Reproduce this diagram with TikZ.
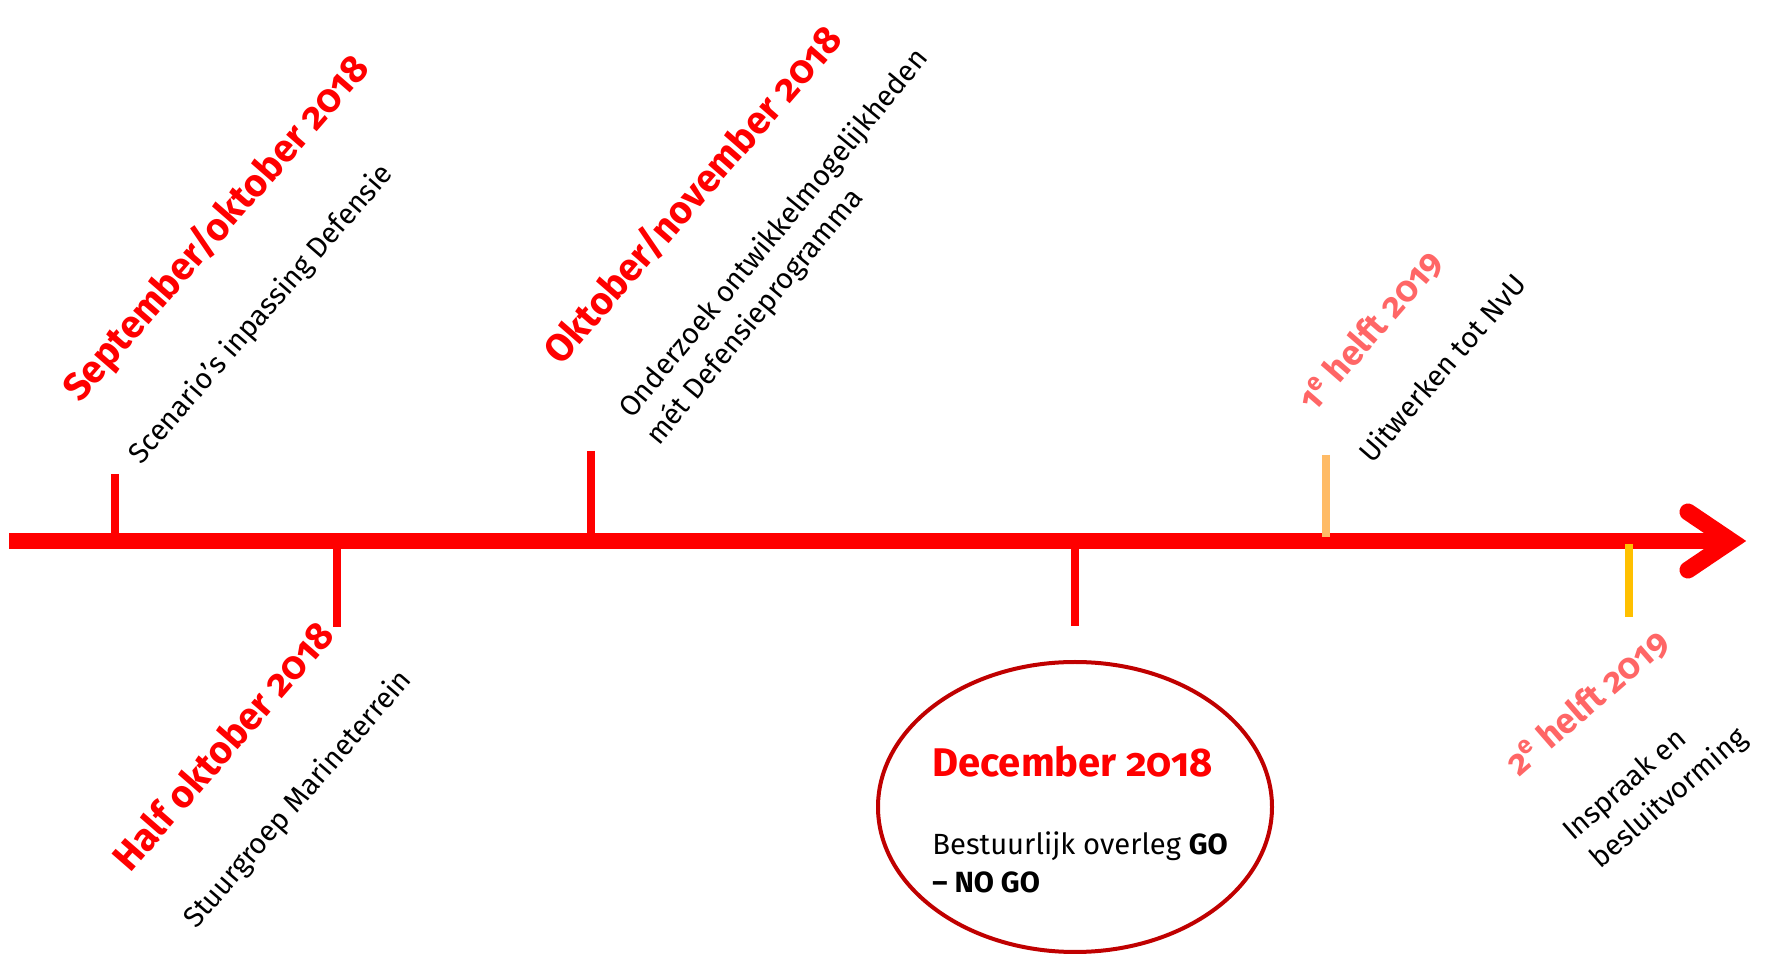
\documentclass[tikz,border=0pt]{standalone}
\usepackage{fontspec}
\setmainfont{Fira Sans}[Numbers=OldStyle]
\usetikzlibrary{shapes.geometric}
\definecolor{mainred}{HTML}{FF0000}
\definecolor{pinkred}{HTML}{FF6666}
\definecolor{lightorange}{HTML}{FFBB66}
\definecolor{gold}{HTML}{FFC000}
\definecolor{darkred}{HTML}{C00000}
\begin{document}
\begin{tikzpicture}[x=0.5pt,y=-0.5pt,
  head/.style={rotate=49, anchor=base west, inner sep=0pt, font=\fontsize{19.3}{23}\selectfont\bfseries, text=mainred},
  headpink/.style={head, font=\fontsize{17.6}{21}\selectfont\bfseries, text=pinkred},
  body/.style={rotate=49, anchor=base west, inner sep=0pt, font=\fontsize{14.4}{18}\selectfont, text=black},
  axisline/.style={line width=8pt, mainred},
  tickline/.style={line width=4pt, mainred},
  ellhead/.style={anchor=base west, inner sep=0pt, font=\fontsize{20}{24}\selectfont\bfseries, text=mainred},
  ellbody/.style={anchor=base west, inner sep=0pt, font=\fontsize{14.6}{19}\selectfont, text=black}
]
\useasboundingbox (0,0) rectangle (1769,956);
\fill[white] (0,0) rectangle (1769,956);

% axis
\coordinate (a0) at (9,541);
\coordinate (a1) at (1718,541);
\draw[axisline] (a0) -- (a1);
\coordinate (h1) at (1688,512);
\coordinate (hv) at (1731,541);
\coordinate (h2) at (1688,570);
\draw[line width=8.5pt, mainred, line cap=round, line join=miter] (h1) -- (hv) -- (h2);

% ticks
\coordinate (t1a) at (115,474); \coordinate (t1b) at (115,549);
\coordinate (t2a) at (337,549); \coordinate (t2b) at (337,627);
\coordinate (t3a) at (591,451); \coordinate (t3b) at (591,541);
\coordinate (t4a) at (1075,549); \coordinate (t4b) at (1075,626);
\coordinate (t5a) at (1326,455); \coordinate (t5b) at (1326,537);
\coordinate (t6a) at (1629,544); \coordinate (t6b) at (1629,617);
\draw[tickline] (t1a) -- (t1b);
\draw[tickline] (t2a) -- (t2b);
\draw[tickline] (t3a) -- (t3b);
\draw[tickline] (t4a) -- (t4b);
\draw[tickline, lightorange] (t5a) -- (t5b);
\draw[tickline, gold] (t6a) -- (t6b);

% labels above
\node[head] (sep) at (80,404) {September/oktober 2018};
\node[body] (scen) at (141,466) {Scenario’s inpassing Defensie};
\node[head] (okt) at (561,367) {Oktober/november 2018};
\node[body, rotate=1.5] (ond1) at (632,420) {Onderzoek ontwikkelmogelijkheden};
\node[body, rotate=1.5] (ond2) at (659,447) {mét Defensieprogramma};
\node[headpink] (h1e) at (1314,414) {1\textsuperscript{e} helft 2019};
\node[body] (uitw) at (1372,465) {Uitwerken tot NvU};

% labels below
\node[head] (half) at (130,874) {Half oktober 2018};
\node[body] (stuur) at (196,930) {Stuurgroep Marineterrein};
\node[headpink, rotate=-8] (h2e) at (1519,778) {2\textsuperscript{e} helft 2019};
\node[body, rotate=-8] (insp1) at (1573,842) {Inspraak en};
\node[body, rotate=-8] (insp2) at (1600,870) {besluitvorming};

% ellipse
\node[ellipse, draw=darkred, line width=2pt, minimum width=197pt, minimum height=145pt, inner sep=0pt] (ell) at (1075,807) {};
\node[ellhead] (dec) at (932,777) {December 2018};
\node[ellbody] (best1) at (932,855) {Bestuurlijk overleg \textbf{GO}};
\node[ellbody] (best2) at (932,893) {\textbf{– NO GO}};
\end{tikzpicture}
\end{document}
